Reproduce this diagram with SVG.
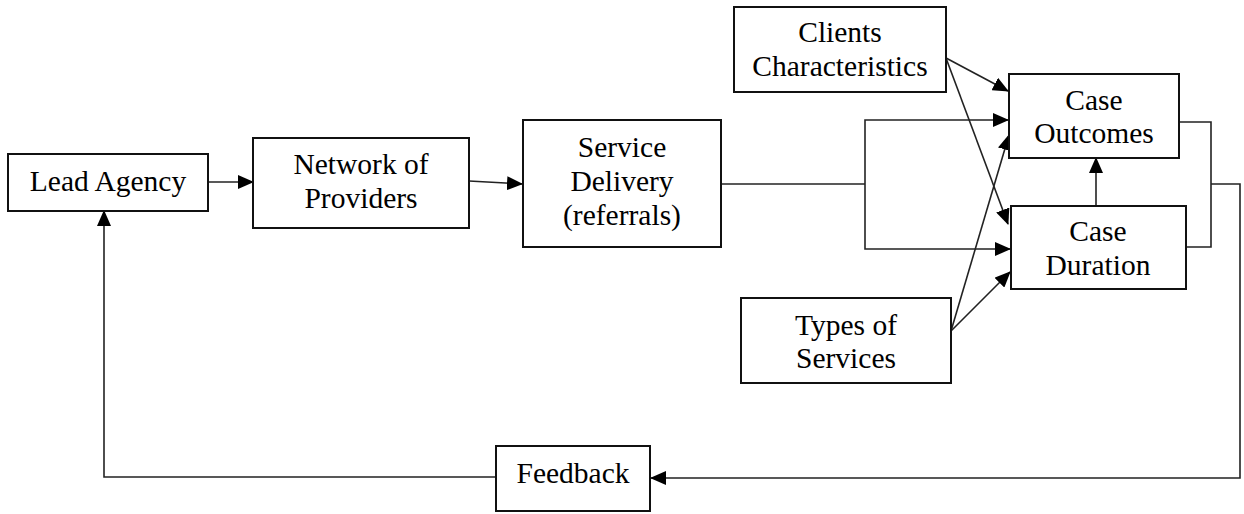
<svg xmlns="http://www.w3.org/2000/svg" width="1244" height="514" viewBox="0 0 1244 514">
<style>
.box{fill:#fff;stroke:#111;stroke-width:2}
.t{font-family:"Liberation Serif","Times New Roman",serif;font-size:29.5px;fill:#000;text-anchor:middle}
.c{fill:none;stroke:#222;stroke-width:1.6}
</style>
<defs>
<marker id="ah" markerUnits="userSpaceOnUse" markerWidth="16" markerHeight="14" refX="15" refY="7" orient="auto">
<path d="M0,0 L16,7 L0,14 z" fill="#000"/>
</marker>
</defs>
<g id="connectors">
<line class="c" x1="208" y1="182" x2="253" y2="182" marker-end="url(#ah)"/>
<line class="c" x1="469" y1="181" x2="522" y2="184" marker-end="url(#ah)"/>
<polyline class="c" points="721,184 865,184"/>
<polyline class="c" points="865,184 865,120 1008,120" marker-end="url(#ah)"/>
<polyline class="c" points="865,184 865,249 1010,249" marker-end="url(#ah)"/>
<line class="c" x1="946" y1="58" x2="1008" y2="91" marker-end="url(#ah)"/>
<line class="c" x1="946" y1="58" x2="1008" y2="224" marker-end="url(#ah)"/>
<line class="c" x1="951" y1="331" x2="1009" y2="135" marker-end="url(#ah)"/>
<line class="c" x1="951" y1="331" x2="1010" y2="272" marker-end="url(#ah)"/>
<line class="c" x1="1096" y1="206" x2="1096" y2="158" marker-end="url(#ah)"/>
<polyline class="c" points="1179,122 1211,122 1211,247 1186,247"/>
<polyline class="c" points="1211,184 1240,184 1240,478 651,478" marker-end="url(#ah)"/>
<polyline class="c" points="496,477 104,477 104,211" marker-end="url(#ah)"/>
</g>
<g id="lead-agency">
<rect class="box" x="8" y="154" width="200" height="57"/>
<text class="t" x="108" y="191">Lead Agency</text>
</g>
<g id="network-of-providers">
<rect class="box" x="253" y="138" width="216" height="90"/>
<text class="t" x="361" y="174">Network of</text>
<text class="t" x="361" y="208">Providers</text>
</g>
<g id="service-delivery">
<rect class="box" x="523" y="120" width="198" height="127"/>
<text class="t" x="622" y="157">Service</text>
<text class="t" x="622" y="191">Delivery</text>
<text class="t" x="622" y="225">(referrals)</text>
</g>
<g id="clients-characteristics">
<rect class="box" x="734" y="7" width="212" height="85"/>
<text class="t" x="840" y="42">Clients</text>
<text class="t" x="840" y="76">Characteristics</text>
</g>
<g id="case-outcomes">
<rect class="box" x="1009" y="74" width="170" height="84"/>
<text class="t" x="1094" y="110">Case</text>
<text class="t" x="1094" y="143">Outcomes</text>
</g>
<g id="case-duration">
<rect class="box" x="1011" y="206" width="175" height="83"/>
<text class="t" x="1098" y="241">Case</text>
<text class="t" x="1098" y="275">Duration</text>
</g>
<g id="types-of-services">
<rect class="box" x="741" y="298" width="210" height="85"/>
<text class="t" x="846" y="335">Types of</text>
<text class="t" x="846" y="368">Services</text>
</g>
<g id="feedback">
<rect class="box" x="496" y="446" width="154" height="65"/>
<text class="t" x="573" y="483">Feedback</text>
</g>
</svg>
